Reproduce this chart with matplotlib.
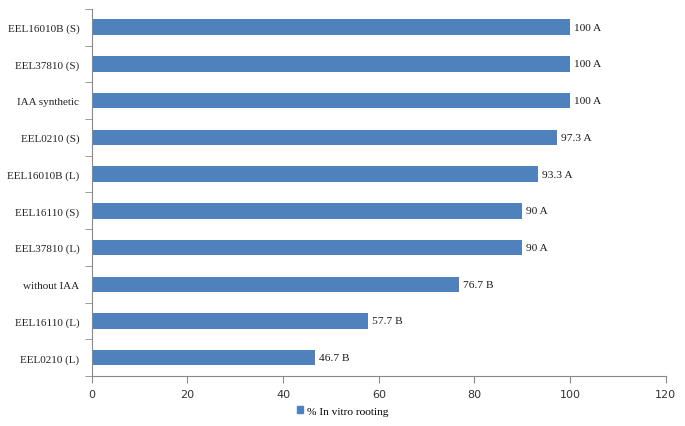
import matplotlib
matplotlib.use("Agg")
import matplotlib.pyplot as plt
from matplotlib.patches import Patch

categories = ["EEL0210 (L)", "EEL16110 (L)", "without IAA", "EEL37810 (L)", "EEL16110 (S)",
              "EEL16010B (L)", "EEL0210 (S)", "IAA synthetic", "EEL37810 (S)", "EEL16010B (S)"]
values = [46.7, 57.7, 76.7, 90, 90, 93.3, 97.3, 100, 100, 100]
letters = ["B", "B", "B", "A", "A", "A", "A", "A", "A", "A"]
xticks = [0, 20, 40, 60, 80, 100, 120]
series_name = "% In vitro rooting"

bar_color = "#4F81BD"
axis_color = "#898989"

fig = plt.figure(figsize=(6.85, 4.27), dpi=100)
ax = fig.add_axes([0.134, 0.117, 0.838, 0.860])

y = list(range(len(categories)))
ax.barh(y, values, height=0.42, color=bar_color, zorder=2)

for yi, v, l in zip(y, values, letters):
    txt = f"{v:g} {l}"
    ax.text(v + 0.8, yi, txt, va="center", ha="left", fontsize=8.2,
            family="Liberation Serif", color="#1a1a1a")

ax.set_xlim(0, 120)
ax.set_ylim(-0.5, len(categories) - 0.5)
ax.set_xticks(xticks)
ax.set_xticklabels([str(t) for t in xticks], fontsize=8, family="DejaVu Sans", color="#333333")
ax.set_yticks(y)
ax.set_yticklabels(categories, fontsize=8, family="Liberation Serif", color="#222222")
ax.tick_params(axis="y", which="major", length=0, pad=9)
ax.set_yticks([i - 0.5 for i in range(len(categories) + 1)], minor=True)
ax.tick_params(axis="y", which="minor", length=5, color=axis_color, direction="out")
ax.tick_params(axis="x", which="major", length=5, color=axis_color, direction="out", pad=4)

for s in ["top", "right"]:
    ax.spines[s].set_visible(False)
for s in ["left", "bottom"]:
    ax.spines[s].set_color(axis_color)
    ax.spines[s].set_linewidth(0.8)

handle = Patch(facecolor=bar_color, edgecolor=bar_color)
fig.legend([handle], [series_name], loc="center", bbox_to_anchor=(0.5, 0.035),
           frameon=False, prop={"family": "Liberation Serif", "size": 8.2},
           handlelength=0.6, handleheight=0.6, handletextpad=0.3)

fig.savefig("out.png", dpi=100, facecolor="white")
